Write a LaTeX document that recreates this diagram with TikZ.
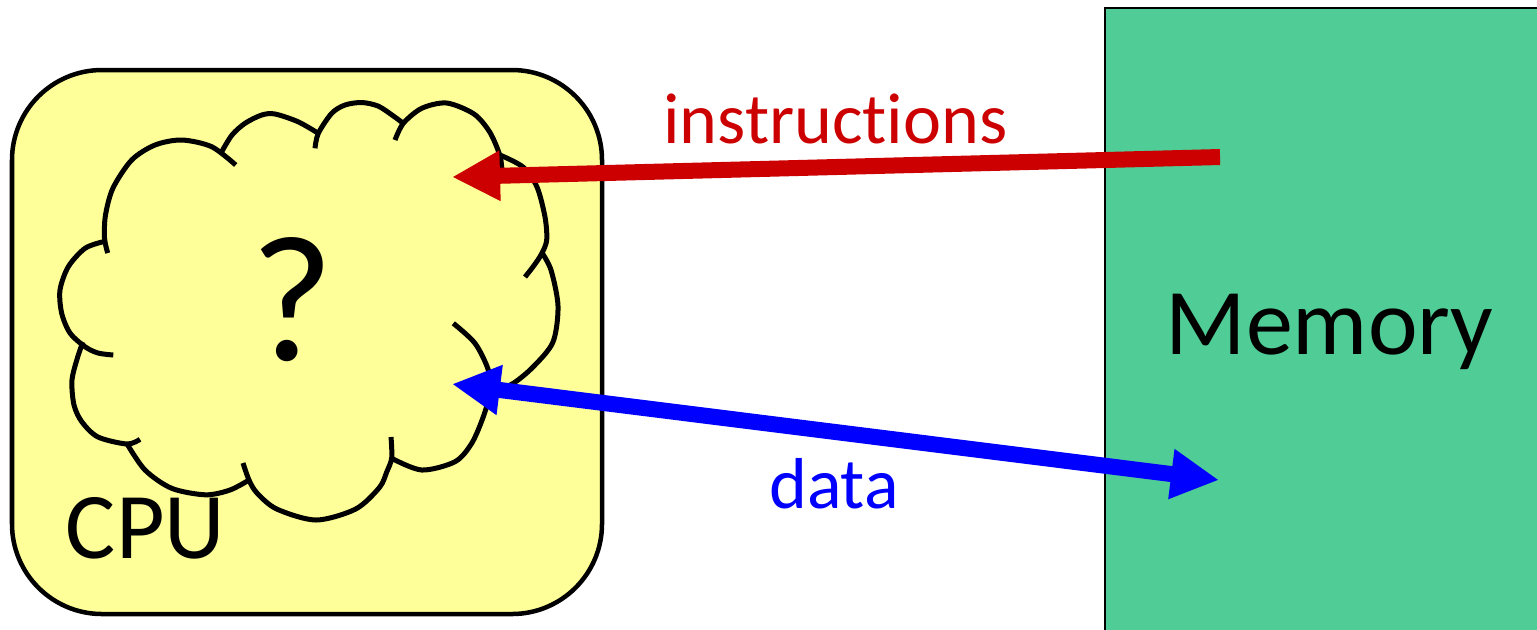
\documentclass[tikz,border=0pt]{standalone}
\usepackage{fontspec}
\setmainfont{Carlito}[Ligatures={NoCommon,NoContextual}]
\usetikzlibrary{arrows.meta}
\definecolor{cpuyellow}{RGB}{255,255,153}
\definecolor{memgreen}{RGB}{80,205,150}
\definecolor{instrred}{RGB}{204,0,0}
\definecolor{datablue}{RGB}{0,0,255}
\tikzset{
  cpubox/.style={draw=black, line width=0.045cm, fill=cpuyellow, rounded corners=0.9cm},
  membox/.style={draw=black, line width=0.02cm, fill=memgreen},
  bump/.style={draw=black, line width=0.05cm, line cap=butt},
  cloudfill/.style={fill=cpuyellow, draw=none},
  headtip/.tip={Triangle[length=0.48cm, width=0.47cm]},
  instrarrow/.style={draw=instrred, line width=0.16cm, -{headtip}},
  dataarrow/.style={draw=datablue, line width=0.16cm, {headtip}-{headtip}},
  midtext/.style={inner sep=0pt, anchor=base, font=\fontsize{20.5pt}{24pt}\selectfont},
  bigtext/.style={inner sep=0pt, anchor=base, font=\fontsize{26.75pt}{32pt}\selectfont},
  qtext/.style={inner sep=0pt, anchor=base, font=\fontsize{51.2pt}{60pt}\selectfont}
}
\begin{document}
\begin{tikzpicture}[x=0.01cm, y=-0.01cm]
\useasboundingbox (0,0) rectangle (1537,629);
\clip (0,0) rectangle (1537,629);
% Memory
\draw[membox] (1105,8) rectangle (1650,720);
\node[bigtext] (memlabel) at (1329.5,354) {Memory};
% CPU
\draw[cpubox] (12,70) rectangle (602,614);
\node[bigtext] (cpulabel) at (145.5,558) {CPU};
% cloud fill
\fill[cloudfill] (104,242) -- (111.7,190) -- (131.7,160) -- (155,145) -- (181.7,140) -- (211.7,146.7) -- (221.7,151.7) -- (245,123) -- (261.7,115) -- (275,115) -- (298,121.7) -- (318.3,133.3) -- (331.7,113.3) -- (361.7,103.3) -- (388.3,113.3) -- (403.3,123.3) -- (421.7,108.3) -- (446.7,103.3) -- (474,114) -- (490,132.5) -- (500,156) -- (523,167) -- (537,187) -- (545,217) -- (546.7,240) -- (541.5,252) -- (551,270) -- (558,306) -- (553,342) -- (533.3,366.7) -- (513.3,383.3) -- (491,392) -- (483,417) -- (471.7,443.3) -- (455,461.7) -- (421.7,470) -- (391.7,458.3) -- (379.4,487.5) -- (355.7,509) -- (316,520) -- (276.7,509) -- (257,493) -- (249,480) -- (230,490) -- (205.5,494.8) -- (171.7,488.3) -- (145,470) -- (126.7,443.3) -- (98,437) -- (82,422) -- (71,387) -- (76,362) -- (85,346.7) -- (70,333) -- (61.7,313.3) -- (60,290) -- (68.3,266.7) -- (85,248.3) -- cycle;
% cloud bumps
\draw[bump] plot[smooth] coordinates {(107.7,253) (104.5,238) (105.5,215) (113,188) (131.7,160) (155,145) (181.7,140) (211.7,146.7) (235.7,165)};
\draw[bump] plot[smooth] coordinates {(221.7,151.7) (232,135) (245,123.3) (261.7,115) (275,114) (298,121.7) (318.3,133.3)};
\draw[bump] plot[smooth] coordinates {(315,148.3) (318.3,133.3) (331.7,113.3) (345,105) (361.7,102.5) (378,106) (392,115) (403.3,123.3)};
\draw[bump] plot[smooth] coordinates {(395,140) (403.3,123.3) (421.7,108.3) (446.7,103) (474,114) (490,132.5) (500,156) (502,172)};
\draw[bump] plot[smooth] coordinates {(500,155) (523,167) (537,187) (545,217) (546.7,240) (541.5,254) (533.6,266) (525,277)};
\draw[bump] plot[smooth] coordinates {(541.5,252) (551,270) (558,306) (553,342) (533.3,366.7) (513.3,383.3) (495,391)};
\draw[bump] plot[smooth] coordinates {(453.3,323.3) (475,343.3) (488.3,370) (490,392) (483.3,416.7) (471.7,443.3) (455,461.7) (421.7,470) (391.7,458.3)};
\draw[bump] plot[smooth] coordinates {(391,437) (391.7,458) (386.7,472) (379.4,487.5) (355.7,509) (316,520) (276.7,509) (257,493) (249,480) (243,463)};
\draw[bump] plot[smooth] coordinates {(249,480) (230,490) (205.5,494.8) (171.7,488.3) (145,470) (126.7,443.3)};
\draw[bump] plot[smooth] coordinates {(83,342) (78,356) (72,380) (74,405) (82,422) (98,437) (127,444) (140,439.3)};
\draw[bump] plot[smooth] coordinates {(103.3,241.7) (85,248.3) (68.3,266.7) (60,290) (61.7,313.3) (70,333) (85,346.7) (98,353) (113.3,355)};
\node[qtext] (qmark) at (292,360) {?};
% arrows
\coordinate (instrFrom) at (1220,157);
\coordinate (instrTo) at (452,177);
\draw[instrarrow] (instrFrom) -- (instrTo);
\coordinate (dataCpu) at (452,384);
\coordinate (dataMem) at (1219,480);
\draw[dataarrow] (dataCpu) -- (dataMem);
% labels
\node[midtext, text=instrred] (instrlabel) at (835.5,143) {instruct\kern0pt ions};
\node[midtext, text=datablue] (datalabel) at (834,508) {data};
\end{tikzpicture}
\end{document}
